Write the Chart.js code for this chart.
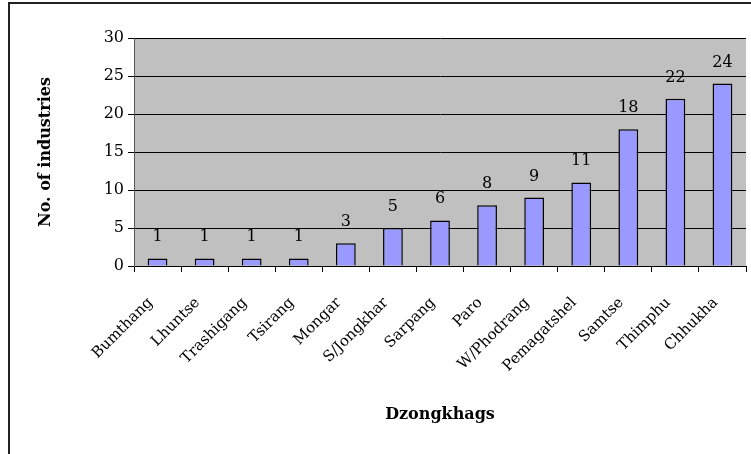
<!DOCTYPE html>
<html>
<head>
<meta charset="utf-8">
<script src="https://cdn.jsdelivr.net/npm/chart.js@4.4.1/dist/chart.umd.min.js"></script>
<style>
  html, body { margin: 0; padding: 0; background: #fff; overflow: hidden; }
  #wrap { position: relative; width: 751px; height: 454px; overflow: hidden; }
  #frame { position: absolute; left: 8px; top: 2px; width: 800px; height: 500px; border: 2px solid #222; box-sizing: border-box; }
  #box { position: absolute; left: 0; top: 0; width: 751px; height: 454px; }
</style>
</head>
<body>
<div id="wrap">
  <div id="frame"></div>
  <div id="box"><canvas id="chart"></canvas></div>
</div>
<script>
const dzongkhags = ['Bumthang', 'Lhuntse', 'Trashigang', 'Tsirang', 'Mongar', 'S/Jongkhar',
  'Sarpang', 'Paro', 'W/Phodrang', 'Pemagatshel', 'Samtse', 'Thimphu', 'Chhukha'];
const industries = [1, 1, 1, 1, 3, 5, 6, 8, 9, 11, 18, 22, 24];
const yTicks = [0, 5, 10, 15, 20, 25, 30];

Chart.defaults.font.family = "'DejaVu Serif', serif";
Chart.defaults.color = '#000';

// gray plot background
const plotBg = {
  id: 'plotBg',
  beforeDraw(chart) {
    const { ctx, chartArea: a } = chart;
    ctx.save();
    ctx.fillStyle = '#c0c0c0';
    ctx.fillRect(a.left, a.top, a.right - a.left, a.bottom - a.top);
    ctx.restore();
  }
};

// value labels above bars
const valueLabels = {
  id: 'valueLabels',
  afterDatasetsDraw(chart) {
    const ctx = chart.ctx;
    const meta = chart.getDatasetMeta(0);
    ctx.save();
    ctx.font = '16px "DejaVu Serif", serif';
    ctx.fillStyle = '#000';
    ctx.textAlign = 'center';
    ctx.textBaseline = 'alphabetic';
    meta.data.forEach((bar, i) => {
      ctx.fillText(String(industries[i]), bar.x, bar.y - 17);
    });
    ctx.restore();
  }
};

new Chart(document.getElementById('chart'), {
  type: 'bar',
  data: {
    labels: dzongkhags,
    datasets: [{
      data: industries,
      backgroundColor: '#9999ff',
      borderColor: '#000',
      borderWidth: 1.5,
      barPercentage: 0.42,
      categoryPercentage: 1
    }]
  },
  options: {
    responsive: true,
    maintainAspectRatio: false,
    animation: false,
    layout: { padding: { left: 32, right: 5, top: 38, bottom: 26 } },
    plugins: {
      legend: { display: false },
      tooltip: { enabled: false }
    },
    scales: {
      x: {
        grid: { offset: true, drawOnChartArea: false, color: '#000', tickLength: 6 },
        border: { color: '#000' },
        ticks: { minRotation: 45, maxRotation: 45, autoSkip: false, font: { size: 15 }, padding: 22, labelOffset: -7 },
        title: { display: true, text: 'Dzongkhags', font: { size: 16, weight: 'bold' }, padding: { top: 0, bottom: 4 } },
        afterFit(scale) {
          scale.height = 454 - 266 - 26;
          scale.paddingLeft = 0;
          scale.paddingRight = 0;
        }
      },
      y: {
        min: 0,
        max: 30,
        afterBuildTicks(scale) { scale.ticks = yTicks.map(v => ({ value: v })); },
        grid: { color: '#000', tickLength: 6 },
        border: { color: '#555' },
        ticks: { font: { size: 16 }, padding: 4 },
        title: { display: true, text: 'No. of industries', font: { size: 16, weight: 'bold' }, padding: { top: 4, bottom: 0 } },
        afterFit(scale) { scale.width = 134 - 32; }
      }
    }
  },
  plugins: [plotBg, valueLabels]
});
</script>
</body>
</html>
